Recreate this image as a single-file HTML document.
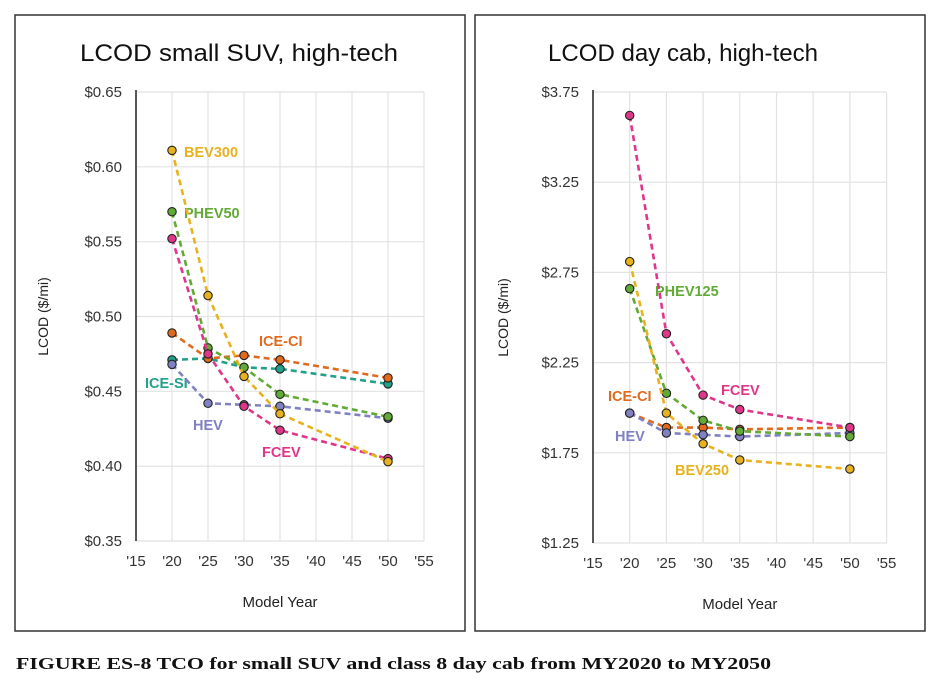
<!DOCTYPE html>
<html><head><meta charset="utf-8"><style>
body{margin:0;background:#fff;width:938px;height:686px;overflow:hidden;font-family:"Liberation Sans",sans-serif}
svg{position:absolute;left:0;top:0}
</style></head><body>
<svg id="c" width="938" height="686"></svg>
<script>
const years=[2020,2025,2030,2035,2050];
const xTicks=["'15","'20","'25","'30","'35","'40","'45","'50","'55"];
const leftTicks=["$0.35","$0.40","$0.45","$0.50","$0.55","$0.60","$0.65"];
const rightTicks=["$1.25","$1.75","$2.25","$2.75","$3.25","$3.75"];
const sBEV300=[0.611,0.514,0.460,0.435,0.403];
const sPHEV50=[0.570,0.479,0.466,0.448,0.433];
const sFCEVl=[0.552,0.475,0.440,0.424,0.405];
const sICECIl=[0.489,0.472,0.474,0.471,0.459];
const sICESI=[0.471,0.472,0.466,0.465,0.455];
const sHEVl=[0.468,0.442,0.441,0.440,0.432];
const sFCEVr=[3.62,2.41,2.07,1.99,1.89];
const sBEV250=[2.81,1.97,1.80,1.71,1.66];
const sPHEV125=[2.66,2.08,1.93,1.87,1.84];
const sICECIr=[1.97,1.89,1.89,1.88,1.89];
const sHEVr=[1.97,1.86,1.85,1.84,1.86];
const C={bev:"#e8b21e",phev:"#62aa36",fcev:"#e0368a",ci:"#e06a1e",si:"#22a08a",hev:"#8080c2"};
const NS="http://www.w3.org/2000/svg",svg=document.getElementById('c');
function el(t,a,p){const e=document.createElementNS(NS,t);for(const k in a)e.setAttribute(k,a[k]);(p||svg).appendChild(e);return e;}
function txt(s,a,p){const e=el('text',a,p);e.textContent=s;return e;}
function panel(o){
  const g=el('g',{});
  
  
  el('rect',{x:o.bx,y:15,width:450,height:616,fill:'none',stroke:'#333','stroke-width':1.5},g);
  const t=txt(o.title,{x:o.tx,y:61,'font-size':24,fill:'#111',textLength:o.tw,lengthAdjust:'spacingAndGlyphs'},g);
  
  const X=y=>o.x0+(y-2015)/5*o.dx;
  const Y=v=>o.y0-(v-o.vmin)/(o.vmax-o.vmin)*(o.y0-o.y1);
  xTicks.forEach((s,i)=>{const x=o.x0+i*o.dx;
    el('line',{x1:x,x2:x,y1:o.y1,y2:o.y0,stroke:'#e2e2e2','stroke-width':1.2},g);
    const l=txt(s,{x:x,y:o.y0+25,'text-anchor':'middle','font-size':15,fill:'#333'},g);
    });
  o.ticks.forEach((s,i)=>{const v=o.vmin+i*o.step,y=Y(v);
    el('line',{x1:o.x0,x2:o.x0+8*o.dx,y1:y,y2:y,stroke:'#e2e2e2','stroke-width':1.2},g);
    const l=txt(s,{x:o.x0-14,y:y+5,'text-anchor':'end','font-size':15,fill:'#333'},g);
    });
  el('line',{x1:o.x0,x2:o.x0,y1:o.y1-2,y2:o.y0,stroke:'#222','stroke-width':1.5},g);
  const yt=txt('LCOD ($/mi)',{x:0,y:0,transform:`translate(${o.bx+33},${(o.y0+o.y1)/2}) rotate(-90)`,'text-anchor':'middle','font-size':14,fill:'#222'},g);
  
  const xt=txt('Model Year',{x:o.x0+4*o.dx,y:o.y0+66,'text-anchor':'middle','font-size':15,fill:'#222'},g);
  
  o.series.forEach(s=>{
    const sg=el('g',{},g);
    
    
    el('polyline',{points:years.map((yr,i)=>X(yr)+','+Y(s.v[i])).join(' '),fill:'none',stroke:s.c,'stroke-width':2.6,'stroke-dasharray':'6,4'},sg);
    years.forEach((yr,i)=>{const p=el('circle',{cx:X(yr),cy:Y(s.v[i]),r:4.2,fill:s.c,stroke:'#222','stroke-width':1.1},sg);
      });
    const l=txt(s.label,{x:s.lx,y:s.ly,'font-size':14.5,'font-weight':'bold',fill:s.c},sg);
    
  });
}
panel({name:'small-suv-chart',bx:15,title:'LCOD small SUV, high-tech',tx:80,tw:318,x0:136,dx:36,y0:541,y1:92,vmin:0.35,vmax:0.65,step:0.05,ticks:leftTicks,
 series:[
  {label:'ICE-SI',v:sICESI,c:C.si,lx:145,ly:388},
  {label:'HEV',v:sHEVl,c:C.hev,lx:193,ly:430},
  {label:'ICE-CI',v:sICECIl,c:C.ci,lx:259,ly:346},
  {label:'PHEV50',v:sPHEV50,c:C.phev,lx:184,ly:218},
  {label:'FCEV',v:sFCEVl,c:C.fcev,lx:262,ly:457},
  {label:'BEV300',v:sBEV300,c:C.bev,lx:184,ly:157}]});
panel({name:'day-cab-chart',bx:475,title:'LCOD day cab, high-tech',tx:548,tw:270,x0:593,dx:36.7,y0:543,y1:92,vmin:1.25,vmax:3.75,step:0.5,ticks:rightTicks,
 series:[
  {label:'ICE-CI',v:sICECIr,c:C.ci,lx:608,ly:401},
  {label:'HEV',v:sHEVr,c:C.hev,lx:615,ly:441},
  {label:'PHEV125',v:sPHEV125,c:C.phev,lx:655,ly:296},
  {label:'BEV250',v:sBEV250,c:C.bev,lx:675,ly:475},
  {label:'FCEV',v:sFCEVr,c:C.fcev,lx:721,ly:395}]});
const cap=txt('FIGURE ES-8  TCO for small SUV and class 8 day cab from MY2020 to MY2050',{x:16,y:669,'font-size':17,'font-weight':'bold','font-family':'Liberation Serif, serif',fill:'#111',textLength:755,lengthAdjust:'spacingAndGlyphs'});

</script>
</body></html>
